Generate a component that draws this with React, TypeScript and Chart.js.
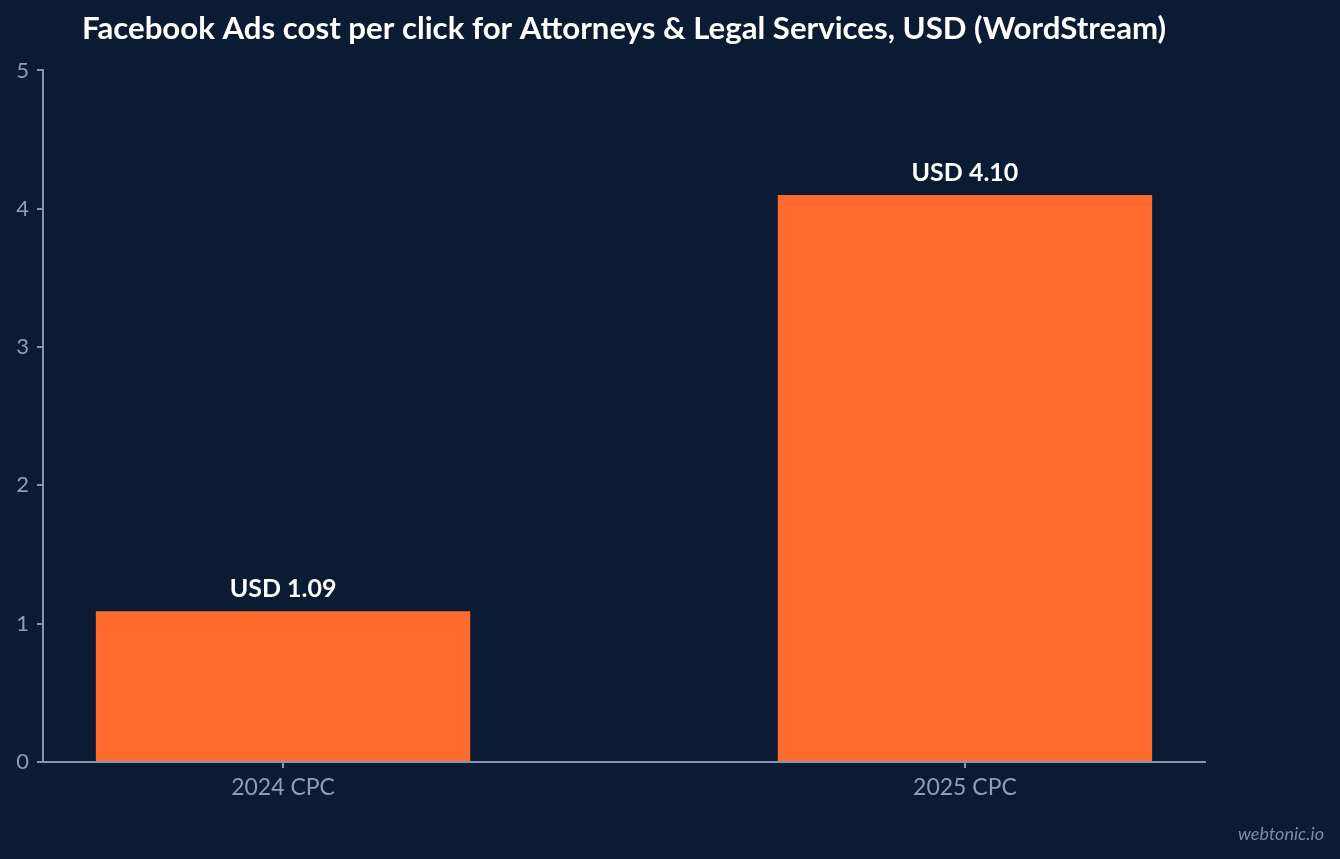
import React, { useEffect, useRef } from "react";
import { Chart, registerables } from "chart.js";

Chart.register(...registerables);

const categories: string[] = ["2024 CPC", "2025 CPC"];
const cpcValues: number[] = [1.09, 4.1];
const valueLabels: string[] = ["USD 1.09", "USD 4.10"];
const yTicks: number[] = [0, 1, 2, 3, 4, 5];
const titleText = "Facebook Ads cost per click for Attorneys & Legal Services, USD (WordStream)";
const watermarkText = "webtonic.io";

const BG = "#0b1b33";
const BAR = "#ff6b2d";
const AXIS = "#8696b0";
const TICK_TEXT = "#8f9db6";
const FONT = "Lato, 'Noto Sans', sans-serif";

export default function App() {
  const canvasRef = useRef<HTMLCanvasElement | null>(null);

  useEffect(() => {
    let chart: Chart | null = null;
    let cancelled = false;
    const prevMargin = document.body.style.margin;
    document.body.style.margin = "0";

    const build = () => {
      if (cancelled || !canvasRef.current) return;
      const labelPlugin = {
        id: "valueLabels",
        afterDatasetsDraw(c: any) {
          const ctx = c.ctx;
          const meta = c.getDatasetMeta(0);
          ctx.save();
          ctx.fillStyle = "#ffffff";
          ctx.font = `bold 25px ${FONT}`;
          ctx.textAlign = "center";
          ctx.textBaseline = "alphabetic";
          meta.data.forEach((el: any, i: number) => {
            ctx.fillText(valueLabels[i], el.x, el.y - 14);
          });
          ctx.restore();
        },
        afterDraw(c: any) {
          const ctx = c.ctx;
          ctx.save();
          ctx.fillStyle = "#7d8ca6";
          ctx.font = `italic 18px ${FONT}`;
          ctx.textAlign = "right";
          ctx.textBaseline = "alphabetic";
          ctx.fillText(watermarkText, c.width - 16, c.height - 19);
          ctx.restore();
        },
      };

      chart = new Chart(canvasRef.current, {
        type: "bar",
        data: {
          datasets: [
            {
              data: cpcValues.map((v, i) => ({ x: i, y: v })),
              backgroundColor: BAR,
              borderWidth: 0,
              barPercentage: 0.549,
              categoryPercentage: 1,
            },
          ],
        },
        options: {
          responsive: false,
          animation: false,
          events: [],
          layout: { padding: { top: 0, left: 0, right: 135, bottom: 0 } },
          plugins: {
            legend: { display: false },
            tooltip: { enabled: false },
            title: {
              display: true,
              text: titleText,
              fullSize: false,
              color: "#ffffff",
              font: { family: FONT, size: 31.2, weight: "bold", lineHeight: 1.2 },
              padding: { top: 10, bottom: 23 },
            },
          },
          scales: {
            x: {
              type: "linear",
              offset: false,
              min: -0.352,
              max: categories.length - 1 + 0.352,
              afterBuildTicks: (scale: any) => {
                scale.ticks = categories.map((_, i) => ({ value: i }));
              },
              afterFit: (scale: any) => {
                scale.height = 97;
              },
              ticks: {
                callback: (v: any) => categories[v as number] ?? "",
                color: TICK_TEXT,
                font: { family: FONT, size: 23 },
                padding: 6,
                maxRotation: 0,
                autoSkip: false,
              },
              grid: {
                display: true,
                offset: false,
                drawOnChartArea: false,
                drawTicks: true,
                tickLength: 6,
                color: AXIS,
                lineWidth: 2,
              },
              border: { display: true, color: AXIS, width: 2 },
            },
            y: {
              type: "linear",
              min: yTicks[0],
              max: yTicks[yTicks.length - 1],
              afterBuildTicks: (scale: any) => {
                scale.ticks = yTicks.map((v) => ({ value: v }));
              },
              afterFit: (scale: any) => {
                scale.width = 43;
              },
              ticks: {
                color: TICK_TEXT,
                font: { family: FONT, size: 22 },
                padding: 8,
              },
              grid: {
                display: true,
                drawOnChartArea: false,
                drawTicks: true,
                tickLength: 6,
                color: AXIS,
                lineWidth: 2,
              },
              border: { display: true, color: AXIS, width: 2 },
            },
          },
        },
        plugins: [labelPlugin],
      } as any);
    };

    const fontsReady = (document as any).fonts
      ? Promise.all([
          (document as any).fonts.load(`bold 26px Lato`),
          (document as any).fonts.load(`22px Lato`),
          (document as any).fonts.load(`italic 18px Lato`),
        ]).catch(() => null)
      : Promise.resolve();
    fontsReady.then(build);

    return () => {
      cancelled = true;
      if (chart) chart.destroy();
      document.body.style.margin = prevMargin;
    };
  }, []);

  return (
    <div
      style={{
        position: "fixed",
        left: 0,
        top: 0,
        width: 1340,
        height: 859,
        background: BG,
      }}
    >
      <canvas ref={canvasRef} width={1340} height={859} style={{ width: 1340, height: 859, display: "block" }} />
    </div>
  );
}
